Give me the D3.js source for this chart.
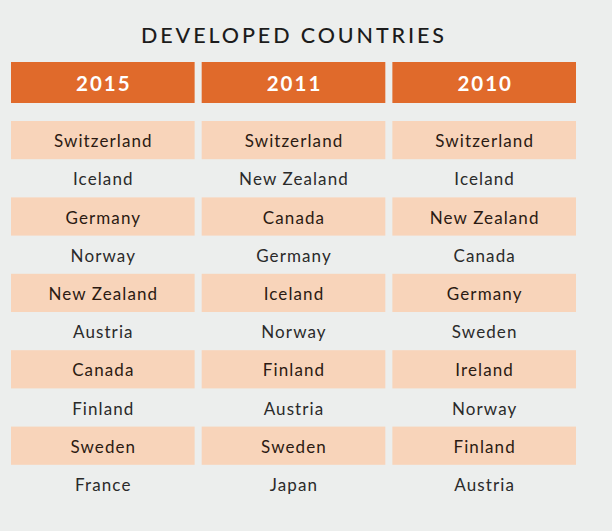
<!DOCTYPE html>
<html>
<head>
<meta charset="utf-8">
<script src="https://cdn.jsdelivr.net/npm/d3@7"></script>
<style>
  html, body { margin: 0; padding: 0; background: #eceeed; }
  svg { display: block; }
  text { font-family: Lato, "Open Sans", sans-serif; }
</style>
</head>
<body>
<div id="chart"></div>
<script>
const title = "DEVELOPED COUNTRIES";
const years = ["2015", "2011", "2010"];
const ranks2015 = ["Switzerland", "Iceland", "Germany", "Norway", "New Zealand", "Austria", "Canada", "Finland", "Sweden", "France"];
const ranks2011 = ["Switzerland", "New Zealand", "Canada", "Germany", "Iceland", "Norway", "Finland", "Austria", "Sweden", "Japan"];
const ranks2010 = ["Switzerland", "Iceland", "New Zealand", "Canada", "Germany", "Sweden", "Ireland", "Norway", "Finland", "Austria"];
const columns = [ranks2015, ranks2011, ranks2010];

const width = 612;
const height = 531;

const svg = d3.select("#chart")
    .append("svg")
    .attr("width", width)
    .attr("height", height);

svg.append("rect")
    .attr("width", width)
    .attr("height", height)
    .attr("fill", "#eceeed");

const x = d3.scaleBand()
    .domain(years)
    .range([11, 576])
    .paddingInner(0.037);

const y = d3.scaleBand()
    .domain(d3.range(ranks2015.length))
    .range([121, 503]);

svg.append("text")
    .attr("x", 294)
    .attr("y", 43)
    .attr("text-anchor", "middle")
    .attr("font-size", 21.5)
    .attr("font-weight", 500)
    .attr("letter-spacing", 2.9)
    .attr("fill", "#1c1c1c")
    .text(title);

// header boxes
const head = svg.append("g")
    .selectAll("g")
    .data(years)
    .join("g");

head.append("rect")
    .attr("x", d => x(d))
    .attr("y", 62)
    .attr("width", x.bandwidth())
    .attr("height", 41)
    .attr("fill", "#e06a2b");

head.append("text")
    .attr("x", d => x(d) + x.bandwidth() / 2 + 1)
    .attr("y", 91)
    .attr("text-anchor", "middle")
    .attr("font-size", 20.5)
    .attr("font-weight", 700)
    .attr("letter-spacing", 2)
    .attr("fill", "#ffffff")
    .text(d => d);

// ranking cells
const col = svg.append("g")
    .selectAll("g")
    .data(columns)
    .join("g")
    .attr("transform", (d, i) => "translate(" + x(years[i]) + ",0)");

col.selectAll("rect")
    .data(d => d.map((name, i) => ({name, i})).filter(c => c.i % 2 === 0))
    .join("rect")
    .attr("x", 0)
    .attr("y", d => y(d.i))
    .attr("width", x.bandwidth())
    .attr("height", y.bandwidth())
    .attr("fill", "#f8d4ba");

col.selectAll("text")
    .data(d => d.map((name, i) => ({name, i})))
    .join("text")
    .attr("x", x.bandwidth() / 2 + 0.5)
    .attr("y", d => y(d.i) + y.bandwidth() / 2 + 7)
    .attr("text-anchor", "middle")
    .attr("font-size", 17)
    .attr("letter-spacing", 1.1)
    .attr("fill", d => d.i % 2 === 0 ? "#2b1a12" : "#2a2a2a")
    .text(d => d.name);
</script>
</body>
</html>
